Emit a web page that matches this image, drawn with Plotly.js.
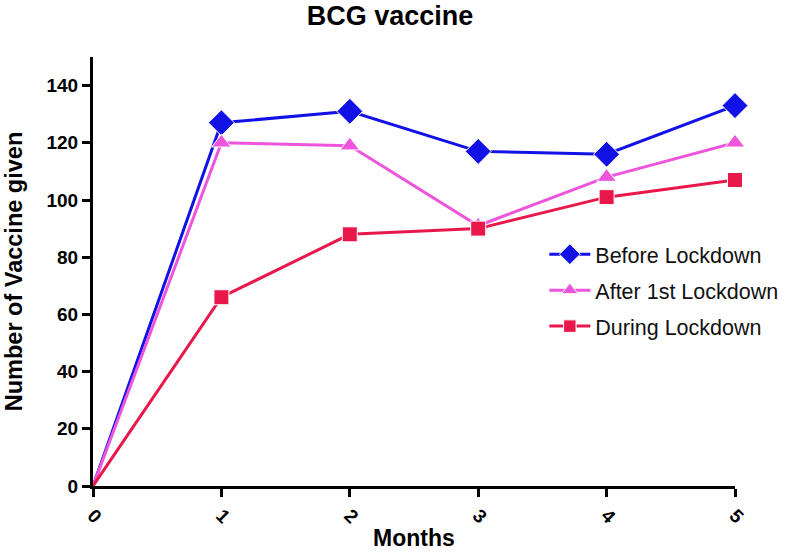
<!DOCTYPE html>
<html>
<head>
<meta charset="utf-8">
<script src="https://cdn.plot.ly/plotly-3.0.1.min.js"></script>
<style>html,body{margin:0;padding:0;background:#fff}#chart{width:800px;height:552px}</style>
</head>
<body>
<div id="chart"></div>
<script>
const months = [0, 1, 2, 3, 4, 5];
const beforeLockdown = [0, 127, 131, 117, 116, 133];
const after1stLockdown = [0, 120, 119, 91, 108, 120];
const duringLockdown = [0, 66, 88, 90, 101, 107];
const seriesNames = ["Before Lockdown", "After 1st Lockdown", "During Lockdown"];
const yTicks = [0, 20, 40, 60, 80, 100, 120, 140];

const font = "Liberation Sans, Arial, sans-serif";
// hide the marker at the origin, as in the reference
const sizes = (s) => months.map(m => (m === 0 ? 0 : s));

const traces = [
  {x: months, y: beforeLockdown, name: seriesNames[0], legendgroup: "a", mode: "lines+markers", cliponaxis: false,
   line: {color: "#1212e6", width: 3}, marker: {symbol: "diamond", size: sizes(20), color: "#1212e6", opacity: 1}},
  {x: months, y: after1stLockdown, name: seriesNames[1], legendgroup: "b", mode: "lines+markers", cliponaxis: false,
   line: {color: "#ee55dd", width: 3}, marker: {symbol: "triangle-up", size: sizes(17), color: "#ee55dd", opacity: 1}},
  {x: months, y: duringLockdown, name: seriesNames[2], legendgroup: "c", mode: "lines+markers", cliponaxis: false,
   line: {color: "#e8194a", width: 3}, marker: {symbol: "square", size: sizes(15), color: "#e8194a", opacity: 1}}
];

const layout = {
  width: 800, height: 552,
  margin: {l: 93, r: 65, t: 57, b: 66},
  paper_bgcolor: "#fff", plot_bgcolor: "#fff",
  title: {text: "<b>BCG vaccine</b>", x: 0.4875, xanchor: "center", y: 0.972, yanchor: "middle",
          font: {family: font, size: 27, color: "#000"}},
  xaxis: {
    range: [0, 5], tickvals: months, ticktext: months.map(String),
    tickangle: 45, ticks: "outside", ticklen: 8, tickwidth: 3, tickcolor: "#000",
    showline: true, linewidth: 3, linecolor: "#000", showgrid: false, zeroline: false,
    tickfont: {family: font, size: 19, color: "#000", weight: "bold"},
    title: {text: "<b>Months</b>", font: {family: font, size: 23, color: "#000"}, standoff: 4},
    fixedrange: true
  },
  yaxis: {
    range: [0, 150], tickvals: yTicks, ticks: "outside", ticklen: 8, tickwidth: 3, tickcolor: "#000",
    showline: true, linewidth: 3, linecolor: "#000", showgrid: false, zeroline: false,
    tickfont: {family: font, size: 19, color: "#000", weight: "bold"},
    title: {text: "<b>Number of Vaccine given</b>", font: {family: font, size: 23.5, color: "#000"}, standoff: 18},
    fixedrange: true
  },
  showlegend: true,
  legend: {x: 0.703, y: 0.588, xanchor: "left", yanchor: "top",
           traceorder: "grouped", tracegroupgap: 5, itemwidth: 41,
           font: {family: font, size: 21.5, color: "#111"}, bgcolor: "rgba(0,0,0,0)"},
};

Plotly.newPlot("chart", traces, layout, {displayModeBar: false, staticPlot: true});
</script>
</body>
</html>
